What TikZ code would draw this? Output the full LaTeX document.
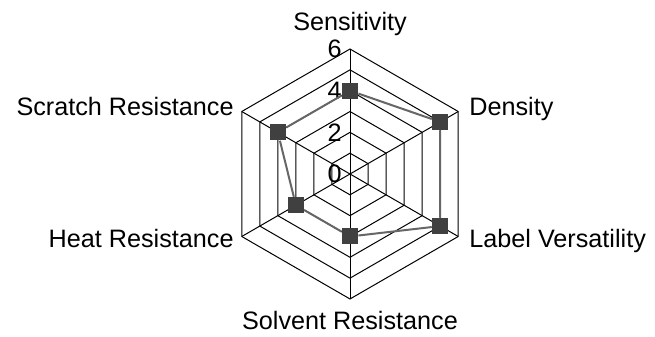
\documentclass[tikz,border=0pt]{standalone}
\usepackage{fontspec}
\setmainfont{Liberation Sans}
\usepackage{xcolor}
\usepackage{tikz}
\usetikzlibrary{
    positioning,
    arrows.meta
}
\tikzset{
    gridline/.style={
        draw=black, line width=0.5pt
    },
    dataline/.style={
        draw=black!60, line width=1pt
    },
    datapt/.style={
        rectangle, fill=black!75, minimum size=8pt, inner sep=0pt
    },
    axislabel/.style={
        font=\fontsize{12.6}{15}\selectfont, inner sep=0pt
    },
    ticklabel/.style={
        font=\fontsize{12.6}{15}\selectfont, inner sep=0pt
    }
}

\begin{document}
\begin{tikzpicture}[x=0.5pt, y=0.5pt]

        \useasboundingbox (0,0) rectangle (655,337);

        \begin{scope}[shift={(350,163)}]
            \def\u{20.83}

            % Rings
            \foreach \r in {1,...,6}
                \draw[gridline] (90:\r*\u) -- (30:\r*\u) -- (-30:\r*\u) -- (-90:\r*\u) -- (-150:\r*\u) -- (150:\r*\u) -- cycle;

            % Spokes
            \coordinate (center) at (0,0);
            \foreach \a/\n in {90/sens, 30/dens, -30/vers, -90/solv, -150/heat, 150/scra}
                \draw[gridline] (center) -- (\a:6*\u) coordinate (\n_end);

            % Scale
            \coordinate (r0) at (0,0);
            \coordinate (r2) at (90:2*\u);
            \coordinate (r4) at (90:4*\u);
            \coordinate (r6) at (90:6*\u);
            \node[ticklabel, left=4pt of r0] (t0) {0};
            \node[ticklabel, left=4pt of r2] (t2) {2};
            \node[ticklabel, left=4pt of r4] (t4) {4};
            \node[ticklabel, left=4pt of r6] (t6) {6};

            % Data points
            \node[datapt] (p_sens) at (90:4*\u) {};
            \node[datapt] (p_dens) at (30:5*\u) {};
            \node[datapt] (p_vers) at (-30:5*\u) {};
            \node[datapt] (p_solv) at (-90:3*\u) {};
            \node[datapt] (p_heat) at (-150:3*\u) {};
            \node[datapt] (p_scra) at (150:4*\u) {};

            \draw[dataline] (p_sens) -- (p_dens) -- (p_vers) -- (p_solv) -- (p_heat) -- (p_scra) -- (p_sens);
        \end{scope}

        % Axis labels
        \node[axislabel, anchor=base] (l_sens) at (350,306) {Sensitivity};
        \node[axislabel, anchor=base west] (l_dens) at (469,221) {Density};
        \node[axislabel, anchor=base west] (l_vers) at (469,89) {Label Versatility};
        \node[axislabel, anchor=base] (l_solv) at (350,7) {Solvent Resistance};
        \node[axislabel, anchor=base east] (l_heat) at (234,89) {Heat Resistance};
        \node[axislabel, anchor=base east] (l_scra) at (234,221) {Scratch Resistance};

    \end{tikzpicture}
\end{document}
